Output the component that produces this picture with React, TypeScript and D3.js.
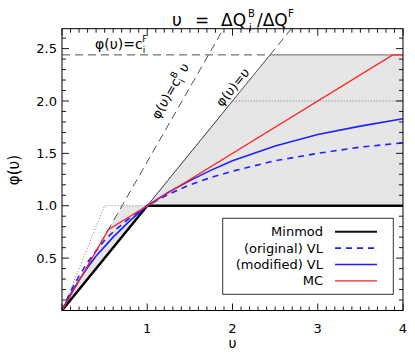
import { scaleLinear, line, area } from "d3";

// limiter curves (v = upwind ratio, phi = limiter)
const cB = 1.42;
const cF = 2.44;

const minmodV = [0, 1, 4];
const minmodPhi = [0, 1, 1];

const mcV = [0, 0.543, 1, 3.88, 4];
const mcPhi = [0, 0.772, 1, 2.44, 2.44];

const vlV = [0, 0.1, 0.2, 0.3, 0.4, 0.5, 0.6, 0.8, 1, 1.25, 1.5, 1.75, 2, 2.5, 3, 3.5, 4];
const vlOrigPhi = [0, 0.18, 0.33, 0.46, 0.57, 0.67, 0.75, 0.89, 1, 1.11, 1.2, 1.27, 1.33, 1.43, 1.5, 1.56, 1.6];
const vlModPhi = [0, 0.155, 0.29, 0.41, 0.52, 0.61, 0.7, 0.86, 1, 1.13, 1.24, 1.34, 1.43, 1.57, 1.68, 1.76, 1.83];

// admissible region (gray) and the classic TVD bound (dotted)
const regionV = [0, 0.704, 1, 2.44, 4];
const regionLow = [0, 0.704, 1, 1, 1];
const regionHigh = [0, 1, 1, 2.44, 2.44];

const tvdV = [0, 0.5, 1, 2, 4];
const tvdPhi = [0, 1, 1, 2, 2];

const xTicks = [1, 2, 3, 4];
const yTicks = [0.5, 1.0, 1.5, 2.0, 2.5];

const legendItems = [
  { label: "Minmod", color: "#111", width: 2, dash: "" },
  { label: "(original) VL", color: "#2020ff", width: 1.6, dash: "6,5" },
  { label: "(modified) VL", color: "#2020ff", width: 1.6, dash: "" },
  { label: "MC", color: "#ff2020", width: 1.3, dash: "" },
];

const width = 415;
const height = 357;
const left = 62;
const right = 403;
const top = 28.7;
const bottom = 310.5;
const yMax = 2.69;
const font = "DejaVu Sans";

const zip = (xs: number[], ys: number[]) => xs.map((v, i) => [v, ys[i]] as [number, number]);

export default function App() {
  const x = scaleLinear().domain([0, 4]).range([left, right]);
  const y = scaleLinear().domain([0, yMax]).range([bottom, top]);

  const path = line<[number, number]>()
    .x((d) => x(d[0]))
    .y((d) => y(d[1]));

  const regionPath = area<number>()
    .x((v) => x(v))
    .y0((_, i) => y(regionLow[i]))
    .y1((_, i) => y(regionHigh[i]))(regionV);

  const minorX = x.ticks(40);
  const minorY = y.ticks(27).filter((t) => t > 0 && t < yMax);

  const pxPerX = (right - left) / 4;
  const pxPerY = (bottom - top) / yMax;
  const angleB = (-Math.atan((cB * pxPerY) / pxPerX) * 180) / Math.PI;
  const angle1 = (-Math.atan(pxPerY / pxPerX) * 180) / Math.PI;

  return (
    <svg
      width={width}
      height={height}
      style={{ position: "absolute", left: 0, top: 0, background: "#fff" }}
      fontFamily={font}>
      <defs>
        <clipPath id="plot">
          <rect x={left} y={top} width={right - left} height={bottom - top} />
        </clipPath>
      </defs>

      <g clipPath="url(#plot)">
        <path d={regionPath ?? ""} fill="#e6e6e6" />
        <path d={path(zip(tvdV, tvdPhi)) ?? ""} fill="none" stroke="#666" strokeWidth={0.9} strokeDasharray="1,2" />
        {/* phi = v */}
        <path d={path([[0, 0], [cF, cF]]) ?? ""} fill="none" stroke="#222" strokeWidth={0.8} />
        <path d={path([[cF, cF], [yMax, yMax]]) ?? ""} fill="none" stroke="#222" strokeWidth={0.8} strokeDasharray="8,5" />
        {/* phi = cF */}
        <path d={path([[0, cF], [cF, cF]]) ?? ""} fill="none" stroke="#222" strokeWidth={0.8} strokeDasharray="8,5" />
        <path d={path([[cF, cF], [4, cF]]) ?? ""} fill="none" stroke="#444" strokeWidth={0.8} />
        {/* phi = cB v */}
        <path d={path([[0, 0], [yMax / cB, yMax]]) ?? ""} fill="none" stroke="#222" strokeWidth={0.8} strokeDasharray="8,5" />

        <path d={path(zip(minmodV, minmodPhi)) ?? ""} fill="none" stroke="#000" strokeWidth={2.4} />
        <path d={path(zip(vlV, vlOrigPhi)) ?? ""} fill="none" stroke="#2020ff" strokeWidth={1.6} strokeDasharray="6,5" />
        <path d={path(zip(vlV, vlModPhi)) ?? ""} fill="none" stroke="#2020ff" strokeWidth={1.6} />
        <path d={path(zip(mcV, mcPhi)) ?? ""} fill="none" stroke="#ff2020" strokeWidth={1.3} />
      </g>

      {/* annotations */}
      <text x={95} y={y(cF) - 6} fontSize={14}>
        φ(υ)=c
        <tspan fontSize={9} dy={4}>i</tspan>
        <tspan fontSize={9} dx={-3} dy={-11}>F</tspan>
      </text>
      <text
        transform={`translate(${x(2.06 / cB) - 9}, ${y(2.06)}) rotate(${angleB})`}
        textAnchor="middle"
        fontSize={13}
        dy={-3}>
        φ(υ)=c
        <tspan fontSize={9} dy={4}>i</tspan>
        <tspan fontSize={9} dx={-3} dy={-10}>B</tspan>
        <tspan dy={6}> υ</tspan>
      </text>
      <text
        transform={`translate(${x(2.08)}, ${y(2.08)}) rotate(${angle1})`}
        textAnchor="middle"
        fontSize={13}
        dy={-4}>
        φ(υ)=υ
      </text>

      {/* frame and ticks */}
      <rect x={left} y={top} width={right - left} height={bottom - top} fill="none" stroke="#000" strokeWidth={1} />
      {minorX.map((t) => {
        const major = Number.isInteger(t);
        const len = major ? 7 : 4;
        return (
          <g key={`x${t}`} stroke="#000" strokeWidth={0.9}>
            <line x1={x(t)} x2={x(t)} y1={bottom} y2={bottom - len} />
            <line x1={x(t)} x2={x(t)} y1={top} y2={top + len} />
          </g>
        );
      })}
      {minorY.map((t) => {
        const major = Math.abs(t * 2 - Math.round(t * 2)) < 1e-6;
        const len = major ? 7 : 4;
        return (
          <g key={`y${t}`} stroke="#000" strokeWidth={0.9}>
            <line x1={left} x2={left + len} y1={y(t)} y2={y(t)} />
            <line x1={right} x2={right - len} y1={y(t)} y2={y(t)} />
          </g>
        );
      })}
      {xTicks.map((t) => (
        <text key={`xl${t}`} x={x(t)} y={333} textAnchor="middle" fontSize={13}>
          {t}
        </text>
      ))}
      {yTicks.map((t) => (
        <text key={`yl${t}`} x={left - 5} y={y(t)} dy="0.35em" textAnchor="end" fontSize={13}>
          {t.toFixed(1)}
        </text>
      ))}

      {/* axis titles */}
      <text x={(left + right) / 2} y={348} textAnchor="middle" fontSize={14}>
        υ
      </text>
      <text transform={`translate(19, 170) rotate(-90)`} textAnchor="middle" fontSize={15}>
        φ(υ)
      </text>
      <text y={26} fontSize={17}>
        <tspan x={172}>υ</tspan>
        <tspan x={195}>=</tspan>
        <tspan x={221}>ΔQ</tspan>
      </text>
      <text x={248} y={17} fontSize={10}>B</text>
      <text x={249} y={31} fontSize={10}>i</text>
      <text x={257} y={26} fontSize={17}>/ΔQ</text>
      <text x={288} y={17} fontSize={10}>F</text>

      {/* legend */}
      <rect x={222.7} y={218.3} width={170.6} height={76} fill="#fff" stroke="#333" strokeWidth={1} />
      {legendItems.map((d, i) => {
        const ly = 231.7 + i * 16.4;
        return (
          <g key={d.label}>
            <text x={323} y={ly} dy="0.35em" textAnchor="end" fontSize={13}>
              {d.label}
            </text>
            <line x1={335} x2={377} y1={ly} y2={ly} stroke={d.color} strokeWidth={d.width} strokeDasharray={d.dash} />
          </g>
        );
      })}
    </svg>
  );
}
